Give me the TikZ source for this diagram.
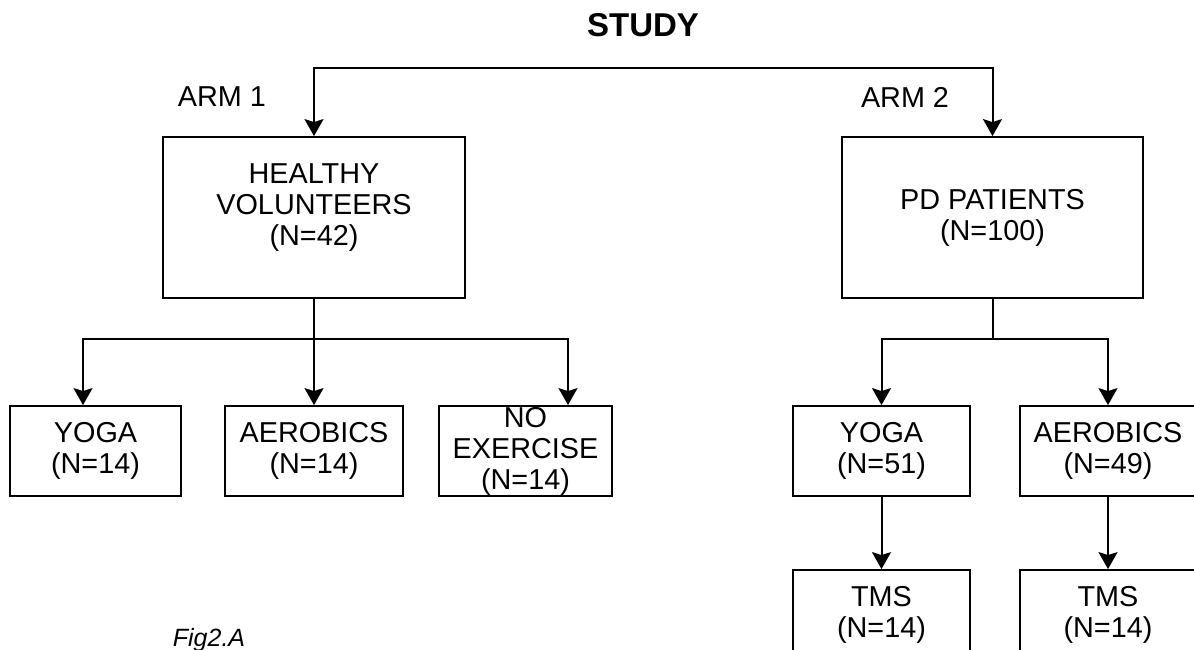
\documentclass[tikz,border=0pt]{standalone}
\usepackage{fontspec}
\setmainfont{Liberation Sans}
\usetikzlibrary{arrows.meta}
\tikzset{
  box/.style={draw, line width=0.9pt, align=center, inner sep=0pt,
    minimum height=45pt, font=\fontsize{14.4}{15.5}\selectfont},
  lbl/.style={font=\fontsize{14.4}{16}\selectfont},
  lnk/.style={line width=1pt},
  arr/.style={line width=1pt, -{Stealth[width=9.5pt,length=8.5pt,inset=1.5pt]}}
}

\begin{document}
\begin{tikzpicture}[x=0.5pt,y=-0.5pt]
\useasboundingbox (0,0) rectangle (1194,649);
\clip (0,0) rectangle (1194,649);

% ---------------- Title and arms ----------------
\node[font=\bfseries\fontsize{16.5}{18}\selectfont] (study) at (643,25) {STUDY};
\node[lbl] (arm1) at (222,97) {ARM 1};
\node[lbl] (arm2) at (905,97) {ARM 2};

% ---------------- Main groups ----------------
\node[box, minimum width=151pt, minimum height=80.5pt] (hv) at (314,217.5)
  {HEALTHY\\VOLUNTEERS\\(N=42)\\[-3pt]};
\node[box, minimum width=150.5pt, minimum height=80.5pt] (pd) at (992.5,217.5)
  {PD PATIENTS\\(N=100)};

\coordinate (split) at (650,68);
\draw[arr] (split) -| (hv.north);
\draw[arr] (split) -| (pd.north);

% ---------------- Sub groups, arm 1 ----------------
\node[box, minimum width=85.5pt] (y1) at (95.5,451) {YOGA\\(N=14)};
\node[box, minimum width=89pt] (a1) at (314,451) {AEROBICS\\(N=14)};
\node[box, minimum width=86.5pt] (n1) at (525.5,451) {NO\\EXERCISE\\(N=14)};

% ---------------- Sub groups, arm 2 ----------------
\node[box, minimum width=88.5pt] (y2) at (881.5,451) {YOGA\\(N=51)};
\node[box, minimum width=88pt] (a2) at (1108,451) {AEROBICS\\(N=49)};
\node[box, minimum width=88.5pt] (t1) at (881.5,615) {TMS\\(N=14)};
\node[box, minimum width=88pt] (t2) at (1108,615) {TMS\\(N=14)};

% ---------------- Connectors ----------------
\path (hv.south) ++(0,40) coordinate (hvj);
\draw[lnk] (hv.south) -- (hvj);
\draw[arr] (hvj) -| ([xshift=-6.25pt]y1.north);
\draw[arr] (hvj) -- (a1.north);
\draw[arr] (hvj) -| ([xshift=21.25pt]n1.north);

\path (pd.south) ++(0,40) coordinate (pdj);
\draw[lnk] (pd.south) -- (pdj);
\draw[arr] (pdj) -| (y2.north);
\draw[arr] (pdj) -| (a2.north);
\draw[arr] (y2) -- (t1);
\draw[arr] (a2) -- (t2);

% ---------------- Caption ----------------
\node[font=\itshape\fontsize{12.5}{14}\selectfont] (fig) at (209,640) {Fig2.A};

\end{tikzpicture}
\end{document}
